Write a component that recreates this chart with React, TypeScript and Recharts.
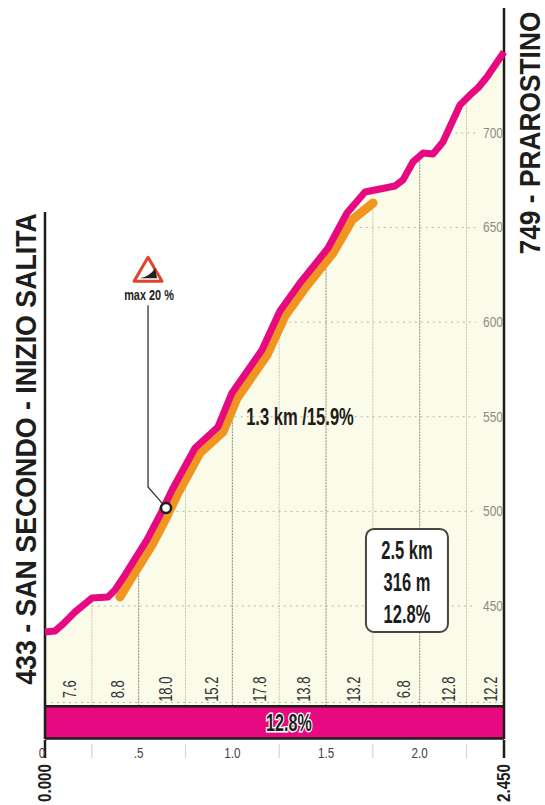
import React from "react";
import { ComposedChart, Area, Line, XAxis, YAxis, ReferenceLine, ReferenceArea, ReferenceDot } from "recharts";

const profileKm = [0, 0.053, 0.091, 0.16, 0.251, 0.336, 0.374, 0.427, 0.544, 0.614, 0.678, 0.801, 0.923, 0.998, 1.158, 1.254, 1.361, 1.511, 1.612, 1.708, 1.868, 1.911, 1.964, 2.018, 2.071, 2.124, 2.215, 2.269, 2.311, 2.359, 2.45];
const profileElev = [436.3, 436.8, 440, 446.8, 454.2, 454.8, 458.5, 466.4, 484.9, 498.1, 511.3, 533.5, 544.6, 562.6, 585.3, 605.9, 620.7, 639.2, 657.7, 668.8, 672, 675.2, 684.7, 689.4, 688.9, 695.2, 714.8, 720.1, 723.8, 729.6, 742.8];
const steepKm = [0.4, 0.454, 0.571, 0.641, 0.705, 0.827, 0.95, 1.025, 1.185, 1.281, 1.388, 1.537, 1.639, 1.751];
const steepElev = [454.8, 463.7, 482.2, 495.5, 508.7, 530.9, 542, 559.9, 582.7, 603.3, 618.1, 636.6, 654, 663];
const leaderKm = [0.55, 0.55, 0.625];
const leaderElev = [609, 512.9, 504.4];

const gridKm = [0.25, 0.5, 0.75, 1, 1.25, 1.5, 1.75, 2, 2.25];
const gridTop = [454, 478, 524, 562, 603, 639, 663, 689, 718];
const gridStrong = [false, true, false, true, false, true, false, true, false];
const elevTicks = [450, 500, 550, 600, 650, 700];
const elevGridStart = [0.25, 0.67, 0.98, 1.27, 1.68, 2.19];
const xTicks = [0, 0.25, 0.5, 0.75, 1, 1.25, 1.5, 1.75, 2, 2.25, 2.45];
const xLabels: Record<string, string> = { "0": "0", "0.5": ".5", "1": "1.0", "1.5": "1.5", "2": "2.0" };

const gradeKm = [0.133, 0.39, 0.646, 0.891, 1.148, 1.382, 1.649, 1.916, 2.156, 2.38];
const gradeLabels = ["7.6", "8.8", "18.0", "15.2", "17.8", "13.8", "13.2", "6.8", "12.8", "12.2"];

const startLabel = "433 - SAN SECONDO - INIZIO SALITA";
const endLabel = "749 - PRAROSTINO";
const summaryLines = ["2.5 km", "316 m", "12.8%"];
const steepLabel = "1.3 km /15.9%";
const maxLabel = "max 20 %";
const bandLabel = "12.8%";

const profile = profileKm.map((km, i) => ({ km, elev: profileElev[i] }));
const steep = steepKm.map((km, i) => ({ km, elev: steepElev[i] }));
const leader = leaderKm.map((km, i) => ({ km, elev: leaderElev[i] }));

const SANS = "'Liberation Sans', sans-serif";
const DARK = "#1d1d1b";
const PINK = "#e6097f";
const Y_MIN = 379.7;
const Y_MAX = 767.65;
const BAND_TOP = 397;

const Cond = ({ x, y, size, sx = 0.72, rot = 0, bold = false, fill = DARK, halo = false, children }: any) => (
  <text
    transform={`translate(${x} ${y}) rotate(${rot}) scale(${sx} 1)`}
    textAnchor="middle"
    dominantBaseline="central"
    fontFamily={SANS}
    fontWeight={bold ? 700 : 400}
    fontSize={size}
    fill={fill}
    stroke={halo ? "#fff" : undefined}
    strokeWidth={halo ? 3 : undefined}
    paintOrder={halo ? "stroke" : undefined}
  >
    {children}
  </text>
);

const XTick = (p: any) => {
  const { x, y, payload } = p;
  const v = payload.value;
  const label = xLabels[String(v)];
  if (v === 0 || v === 2.45) {
    return (
      <g>
        <line x1={x} x2={x} y1={y - 7} y2={y + 11} stroke={DARK} strokeWidth={2.5} />
        {v === 0 && <Cond x={x - 3} y={y + 6} size={15} sx={0.78} fill="#444">0</Cond>}
        <Cond x={x - 1} y={y + 36} size={19} sx={0.8} rot={-90} bold>{v === 0 ? "0.000" : "2.450"}</Cond>
      </g>
    );
  }
  if (label) {
    return <Cond x={x} y={y + 6} size={15} sx={0.78} fill="#444">{label}</Cond>;
  }
  return <line x1={x} x2={x} y1={y - 3} y2={y + 11} stroke="#d9d6c8" strokeWidth={1.2} />;
};

const YTick = (p: any) => {
  const { x, y, payload } = p;
  return <Cond x={x - 19} y={y} size={14} sx={0.85} fill="#8b8b84">{payload.value}</Cond>;
};

const gradeShape = (label: string) => (p: any) => (
  <Cond x={p.cx} y={p.cy} size={18} sx={0.72} rot={-90} fill="#333">{label}</Cond>
);

const SummaryBox = (p: any) => (
  <g>
    <rect x={p.cx - 41} y={p.cy - 51.5} width={82} height={103} rx={8} fill="#fff" stroke="#4a4540" strokeWidth={2} />
    {summaryLines.map((t, i) => (
      <Cond key={t} x={p.cx} y={p.cy - 30 + i * 32} size={25} sx={0.66} bold>{t}</Cond>
    ))}
  </g>
);

const SteepText = (p: any) => <Cond x={p.cx} y={p.cy} size={23} sx={0.72} bold>{steepLabel}</Cond>;

const MaxIcon = (p: any) => {
  const { cx, cy } = p;
  return (
    <g>
      <path d={`M${cx} ${cy - 12} L${cx + 14} ${cy + 12} L${cx - 14} ${cy + 12} Z`} fill="#fff" stroke="#e2432a" strokeWidth={3} strokeLinejoin="round" />
      <path d={`M${cx - 8} ${cy + 9} Q${cx + 2} ${cy + 7} ${cx + 7} ${cy - 1} L${cx + 9} ${cy + 9} Z`} fill="#222" />
      <Cond x={cx + 1} y={cy + 26} size={14} sx={0.78} bold>{maxLabel}</Cond>
    </g>
  );
};

const BandText = (p: any) => <Cond x={p.cx} y={p.cy} size={23} sx={0.7} bold halo>{bandLabel}</Cond>;

const SideLabels = () => (
  <svg width={545} height={805} style={{ position: "absolute", left: 0, top: 0, pointerEvents: "none" }}>
    <Cond x={25} y={449} size={30} sx={0.891} rot={-90} bold>{startLabel}</Cond>
    <Cond x={530} y={133} size={29} sx={0.908} rot={-90} bold>{endLabel}</Cond>
  </svg>
);

export default function App() {
  return (
    <div style={{ position: "absolute", left: 0, top: 0, width: 545, height: 805, background: "#fff" }}>
      <ComposedChart width={545} height={805} data={profile} margin={{ top: 5, right: 0, bottom: 0, left: 45 }}>
        <XAxis dataKey="km" type="number" domain={[0, 2.45]} ticks={xTicks} interval={0} tick={XTick} tickLine={false} axisLine={false} height={66} allowDuplicatedCategory={false} />
        <Area dataKey="elev" type="linear" stroke="none" fill="#fbfbe9" fillOpacity={1} isAnimationActive={false} />
        {gridKm.map((km, i) => (
          <ReferenceLine key={km} segment={[{ x: km, y: BAND_TOP }, { x: km, y: gridTop[i] }]} stroke={gridStrong[i] ? "#8c8a7c" : "#c9c6b6"} strokeWidth={1} strokeDasharray="2 1" />
        ))}
        {elevTicks.map((e, i) => (
          <ReferenceLine key={e} segment={[{ x: elevGridStart[i], y: e }, { x: 2.3, y: e }]} stroke="#b9b7a8" strokeWidth={1} strokeDasharray="2 4" />
        ))}
        <ReferenceLine segment={[{ x: 0, y: 399 }, { x: 2.45, y: 399 }]} stroke="#b9b7a8" strokeWidth={1} strokeDasharray="2 4" />
        <ReferenceArea x1={0} x2={2.45} y1={Y_MIN} y2={BAND_TOP} fill={PINK} fillOpacity={1} stroke="none" />
        <ReferenceLine y={BAND_TOP} stroke={DARK} strokeWidth={2.5} />
        <ReferenceLine y={Y_MIN + 0.3} stroke={DARK} strokeWidth={2.5} />
        <ReferenceLine segment={[{ x: 0, y: Y_MIN }, { x: 0, y: 658.2 }]} stroke={DARK} strokeWidth={2.5} />
        <ReferenceLine segment={[{ x: 2.45, y: Y_MIN }, { x: 2.45, y: 766 }]} stroke={DARK} strokeWidth={2.5} />
        <YAxis type="number" domain={[Y_MIN, Y_MAX]} ticks={elevTicks} orientation="right" width={41} tick={YTick} tickLine={false} axisLine={false} />
        {gradeKm.map((km, i) => (
          <ReferenceDot key={km} x={km} y={406} r={0} shape={gradeShape(gradeLabels[i])} />
        ))}
        <Line data={steep} dataKey="elev" type="linear" stroke="#f0951f" strokeWidth={9} strokeLinecap="round" dot={false} legendType="none" isAnimationActive={false} />
        <Line dataKey="elev" type="linear" stroke={PINK} strokeWidth={7} strokeLinejoin="round" dot={false} isAnimationActive={false} />
        <Line data={leader} dataKey="elev" type="linear" stroke="#333" strokeWidth={1.3} dot={false} isAnimationActive={false} />
        <ReferenceDot x={0.646} y={501.8} r={5} fill="#fff" stroke={DARK} strokeWidth={2.5} />
        <ReferenceDot x={0.55} y={628} r={0} shape={MaxIcon} />
        <ReferenceDot x={1.361} y={550} r={0} shape={SteepText} />
        <ReferenceDot x={1.932} y={463.5} r={0} shape={SummaryBox} />
        <ReferenceDot x={1.302} y={388.4} r={0} shape={BandText} />
      </ComposedChart>
      <SideLabels />
    </div>
  );
}
